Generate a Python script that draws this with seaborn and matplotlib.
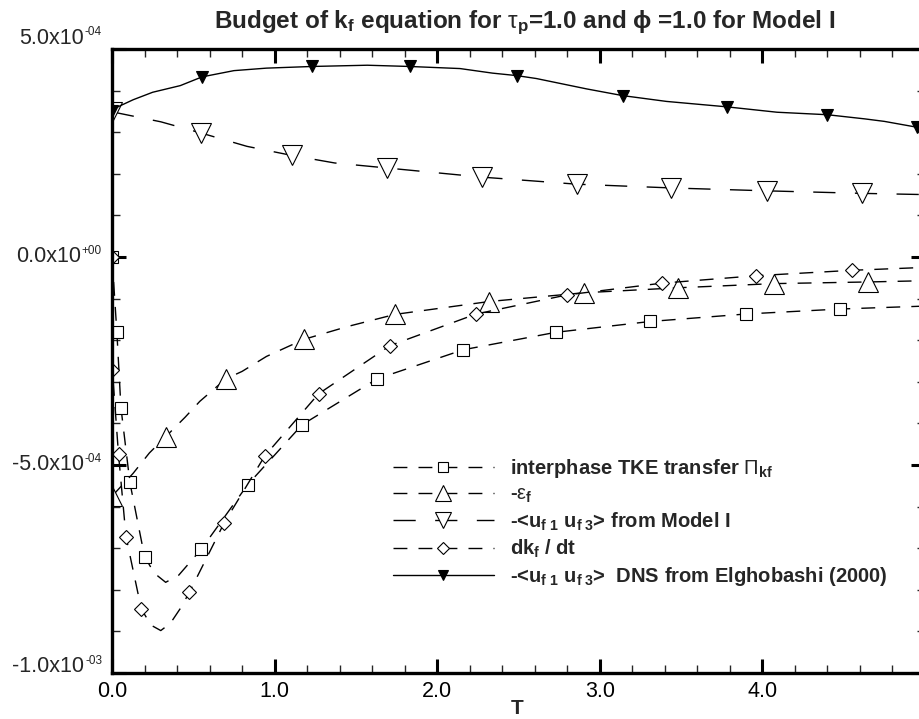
import numpy as np
import pandas as pd
import matplotlib
matplotlib.use("Agg")
import matplotlib.pyplot as plt
from matplotlib.lines import Line2D
from matplotlib.ticker import FixedLocator, MultipleLocator, NullFormatter
from matplotlib.transforms import offset_copy
import seaborn as sns

# ---------------- data ----------------
# interphase TKE transfer Pi_kf  (open squares)
pi_t = [0.0, 0.03, 0.055, 0.11, 0.2, 0.26, 0.33, 0.41, 0.55, 0.835, 1.17, 1.63, 2.16, 2.73, 3.31, 3.90, 4.48, 5.0]
pi_v = [0.0, -1.81, -3.62, -5.42, -7.2, -7.6, -7.82, -7.65, -7.02, -5.47, -4.03, -2.93, -2.23, -1.81, -1.55, -1.37, -1.25, -1.18]
pi_mk = [0, 1, 2, 3, 4, 8, 9, 10, 11, 12, 13, 14, 15, 16]

# -eps_f (open up-triangles)
eps_t = [0.0, 0.13, 0.23, 0.33, 0.45, 0.54, 0.70, 0.80, 0.95, 1.18, 1.45, 1.74, 2.32, 2.90, 3.48, 4.07, 4.65, 5.0]
eps_v = [-5.75, -5.2, -4.71, -4.32, -3.85, -3.47, -2.93, -2.75, -2.39, -1.98, -1.67, -1.38, -1.07, -0.86, -0.74, -0.64, -0.60, -0.57]
eps_mk = [0, 3, 6, 9, 11, 12, 13, 14, 15, 16]

# -<uf1 uf3> from Model I (open down-triangles)
mod_t = [0.0, 0.3, 0.548, 0.83, 1.108, 1.37, 1.69, 2.275, 2.86, 3.44, 4.03, 4.61, 5.0]
mod_v = [3.49, 3.25, 2.98, 2.66, 2.44, 2.26, 2.14, 1.92, 1.75, 1.66, 1.59, 1.53, 1.50]
mod_mk = [0, 2, 4, 6, 7, 8, 9, 10, 11]

# dk_f/dt (open diamonds)
dk_t = [0.0, 0.002, 0.04, 0.086, 0.18, 0.24, 0.3, 0.36, 0.42, 0.476, 0.69, 0.94, 1.27, 1.71, 2.24, 2.80, 3.38, 3.96, 4.55, 5.0]
dk_v = [0.0, -2.71, -4.74, -6.72, -8.46, -8.85, -8.98, -8.8, -8.45, -8.06, -6.39, -4.78, -3.29, -2.13, -1.37, -0.91, -0.63, -0.45, -0.32, -0.25]
dk_mk = [0, 1, 2, 3, 4, 9, 10, 11, 12, 13, 14, 15, 16, 17, 18]

# -<uf1 uf3> DNS from Elghobashi (2000) (filled down-triangles, solid)
dns_t = [0.0, 0.02, 0.13, 0.25, 0.42, 0.554, 0.75, 0.95, 1.23, 1.57, 1.83, 2.14, 2.34, 2.49, 2.61, 2.92, 3.14, 3.41, 3.78, 4.09, 4.40, 4.63, 4.75, 4.95, 5.0]
dns_v = [3.50, 3.58, 3.78, 3.96, 4.12, 4.33, 4.48, 4.54, 4.58, 4.61, 4.58, 4.53, 4.42, 4.36, 4.29, 4.04, 3.88, 3.74, 3.61, 3.48, 3.42, 3.32, 3.26, 3.12, 3.08]
dns_mk = [0, 5, 8, 10, 13, 16, 18, 20, 23]

SCALE = 1e-4

labels = [
    r"interphase TKE transfer $\mathrm{\Pi}_{\mathbf{kf}}$",
    r"-$\mathrm{\varepsilon}_{\mathbf{f}}$",
    r"-<u$_{\mathbf{f\ 1}}$ u$_{\mathbf{f\ 3}}$> from Model I",
    r"dk$_{\mathbf{f}}$ / dt",
    r"-<u$_{\mathbf{f\ 1}}$ u$_{\mathbf{f\ 3}}$>  DNS from Elghobashi (2000)",
]

x_ticks = [0.0, 1.0, 2.0, 3.0, 4.0, 5.0]
x_ticklabels = ["0.0", "1.0", "2.0", "3.0", "4.0", ""]
y_ticks = [5e-4, 0.0, -5e-4, -1e-3]
y_tick_mant = ["5.0x10", "0.0x10", "-5.0x10", "-1.0x10"]
y_tick_exp = ["-04", "+00", "-04", "-03"]

# ---------------- style ----------------
sns.set_theme(style="ticks")
plt.rcParams["font.family"] = ["Liberation Sans", "DejaVu Sans"]
plt.rcParams["mathtext.fontset"] = "custom"
plt.rcParams["mathtext.rm"] = "Liberation Sans"
plt.rcParams["mathtext.it"] = "Liberation Sans:italic"
plt.rcParams["mathtext.bf"] = "Liberation Sans:bold"
plt.rcParams["axes.unicode_minus"] = False

W, H = 919, 719
fig = plt.figure(figsize=(W / 100, H / 100), dpi=100)
ax = fig.add_axes([112 / W, (H - 673) / H, (925 - 112) / W, (673 - 49) / H])
ax.set_facecolor("white")

short_dash = (0, (10.0, 8.0))
long_dash = (0, (16.0, 14.0))

series = [
    (pi_t, pi_v, pi_mk, "s", 8.2, "white", short_dash),
    (eps_t, eps_v, eps_mk, "^", 14.5, "white", short_dash),
    (mod_t, mod_v, mod_mk, "v", 14.5, "white", long_dash),
    (dk_t, dk_v, dk_mk, "D", 7.6, "white", short_dash),
    (dns_t, dns_v, dns_mk, "v", 8.5, "black", "-"),
]

handles = []
for (t, v, mk, m, ms, fc, ls) in series:
    df = pd.DataFrame({"T": t, "val": np.array(v) * SCALE})
    sns.lineplot(data=df, x="T", y="val", ax=ax, estimator=None, sort=False,
                 color="black", linewidth=1.0, linestyle=ls,
                 marker=m, markersize=ms, markerfacecolor=fc,
                 markeredgecolor="black", markeredgewidth=0.8,
                 markevery=mk, legend=False)
    handles.append(Line2D([], [], color="black", linewidth=1.0, linestyle=ls,
                          marker=m, markersize=ms * 0.8, markerfacecolor=fc,
                          markeredgecolor="black", markeredgewidth=0.8))

ax.set_xlim(0, 5)
ax.set_ylim(-1e-3, 5e-4)
ax.xaxis.set_major_locator(FixedLocator(x_ticks))
ax.xaxis.set_minor_locator(MultipleLocator(0.2))
ax.yaxis.set_major_locator(FixedLocator(y_ticks))
ax.yaxis.set_minor_locator(MultipleLocator(1e-4))
ax.set_xticklabels(x_ticklabels)
ax.yaxis.set_major_formatter(NullFormatter())

ax.tick_params(which="major", direction="in", length=10, width=2.2, top=True, right=True,
               labelsize=15.5, pad=6, colors="black")
ax.tick_params(which="minor", direction="in", length=6, width=1.0, top=True, right=True)
for s in ax.spines.values():
    s.set_linewidth(2.4)
    s.set_color("black")
ax.set_xlabel("")
ax.set_ylabel("")

# y tick labels in Tecplot style: mantissa + small raised exponent, right-aligned as a whole
renderer = fig.canvas.get_renderer()
base_tr = ax.get_yaxis_transform()
y_shift = [11, 0, 0, 6]  # the outermost labels sit a bit above their ticks
for yv, mant, ex, sh in zip(y_ticks, y_tick_mant, y_tick_exp, y_shift):
    t_ex = ax.text(0, yv, ex, ha="right", va="center", fontsize=8.5,
                   transform=offset_copy(base_tr, fig=fig, x=-10, y=sh + 6, units="dots"))
    w_ex = t_ex.get_window_extent(renderer=renderer).width
    ax.text(0, yv, mant, ha="right", va="center", fontsize=15.5,
            transform=offset_copy(base_tr, fig=fig, x=-11 - w_ex, y=sh, units="dots"))

fig.text(525 / W, 1 - 23 / H,
         r"Budget of k$_{\mathbf{f}}$ equation for $\mathrm{\tau}_{\mathbf{p}}$=1.0 and ϕ =1.0 for Model I",
         ha="center", va="center", fontsize=17.5, fontweight="bold")
fig.text(517 / W, 1 - 708 / H, "T", ha="center", va="center", fontsize=15, fontweight="bold")

leg = ax.legend(handles, labels, loc="upper left",
                bbox_to_anchor=(393 / W, 1 - 457 / H), bbox_transform=fig.transFigure,
                frameon=False, borderpad=0, borderaxespad=0,
                handlelength=5.0, handletextpad=0.8, labelspacing=0.25,
                prop={"weight": "bold", "size": 14.5})

fig.savefig("out.png", dpi=100, facecolor="white")
